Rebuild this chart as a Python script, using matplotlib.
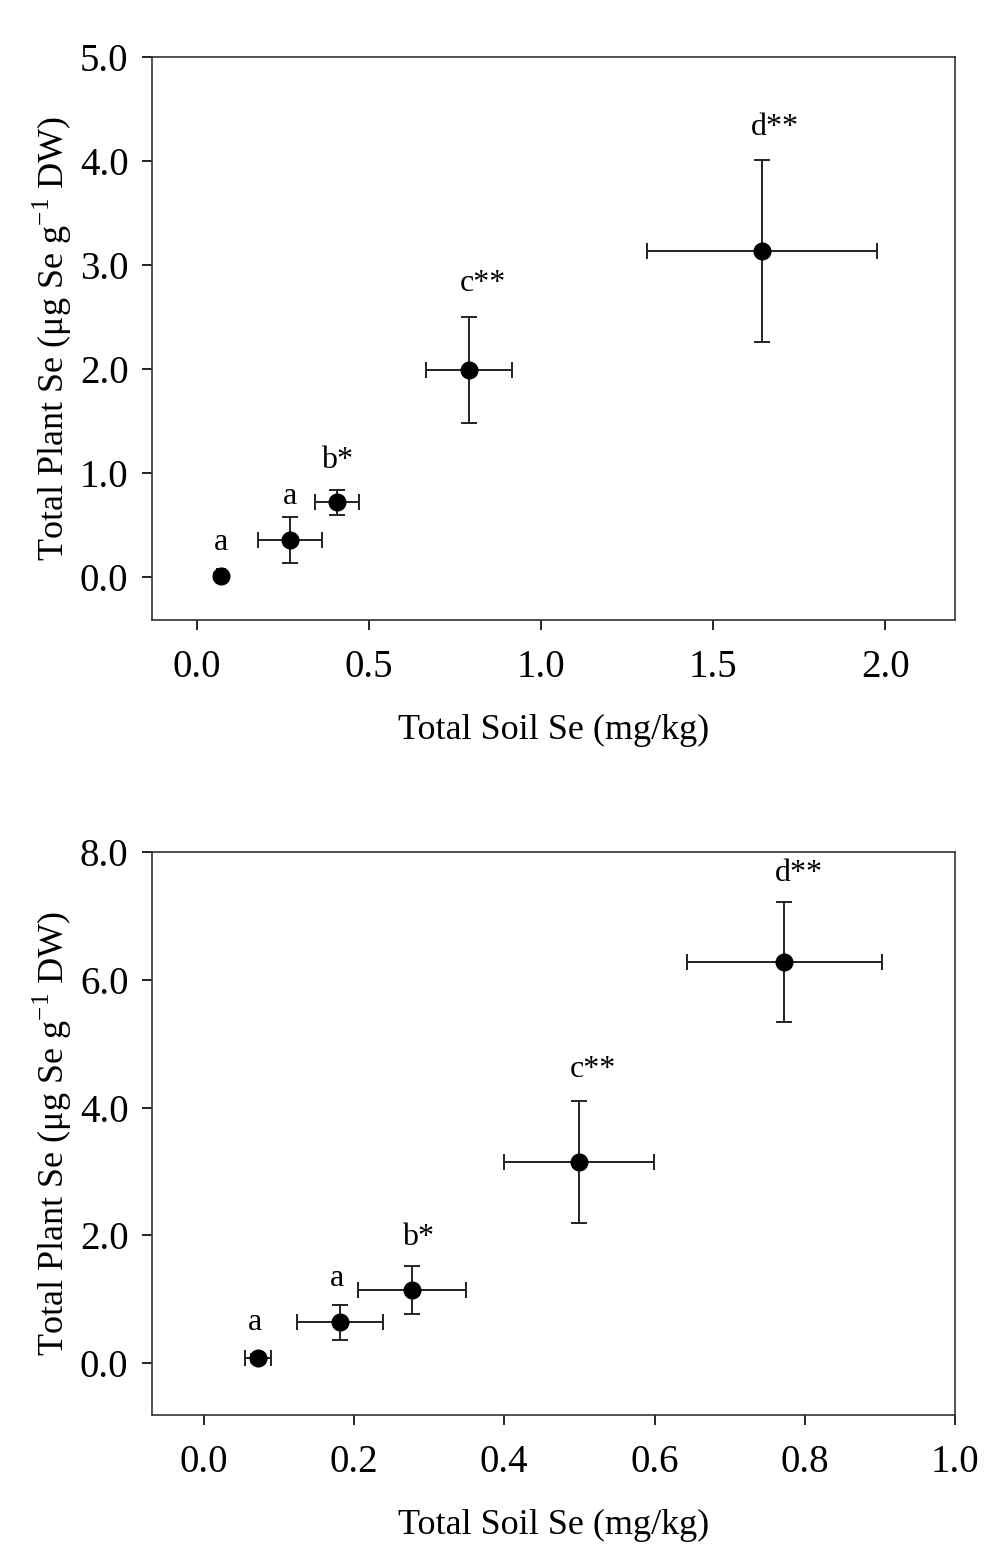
import matplotlib
matplotlib.use("Agg")
import matplotlib.pyplot as plt

plt.rcParams['font.family'] = ['Liberation Serif', 'DejaVu Serif']
plt.rcParams['mathtext.fontset'] = 'custom'
plt.rcParams['mathtext.rm'] = 'Liberation Serif'

# Top panel data
top_x = [0.07, 0.27, 0.407, 0.79, 1.642]
top_y = [0.01, 0.36, 0.72, 1.99, 3.14]
top_xerr = [0.012, 0.092, 0.065, 0.124, 0.333]
top_yerr = [0.03, 0.22, 0.12, 0.51, 0.875]
top_labels = ["a", "a", "b*", "c**", "d**"]
top_label_x = [0.07, 0.27, 0.407, 0.83, 1.68]
top_label_y = [0.33, 0.78, 1.12, 2.82, 4.32]
top_xticks = [0.0, 0.5, 1.0, 1.5, 2.0]
top_yticks = [0.0, 1.0, 2.0, 3.0, 4.0, 5.0]

# Bottom panel data
bot_x = [0.072, 0.181, 0.277, 0.499, 0.773]
bot_y = [0.08, 0.64, 1.14, 3.15, 6.28]
bot_xerr = [0.017, 0.057, 0.072, 0.100, 0.130]
bot_yerr = [0.06, 0.27, 0.375, 0.96, 0.94]
bot_labels = ["a", "a", "b*", "c**", "d**"]
bot_label_x = [0.068, 0.177, 0.285, 0.518, 0.792]
bot_label_y = [0.64, 1.33, 1.96, 4.59, 7.67]
bot_xticks = [0.0, 0.2, 0.4, 0.6, 0.8, 1.0]
bot_yticks = [0.0, 2.0, 4.0, 6.0, 8.0]

fig = plt.figure(figsize=(10, 15.5), dpi=100)
ax1 = fig.add_axes([0.152, 1 - 620/1550, 0.803, 563/1550])
ax2 = fig.add_axes([0.152, 1 - 1415/1550, 0.803, 563/1550])

ylabel = r"Total Plant Se ($\mathrm{\mu}$g Se g$^{\mathrm{-1}}$ DW)"

def draw(ax, x, y, xerr, yerr, labels, lx, ly, xticks, yticks, xlim, ylim):
    ax.errorbar(x, y, xerr=xerr, yerr=yerr, fmt='o', color='black',
                ecolor='#222222', elinewidth=1.4, capsize=6, capthick=1.4,
                markersize=12)
    for t, a, b in zip(labels, lx, ly):
        ax.text(a, b, t, ha='center', va='center', fontsize=23)
    ax.set_xlim(*xlim)
    ax.set_ylim(*ylim)
    ax.set_xticks(xticks)
    ax.set_xticklabels([f"{v:.1f}" for v in xticks])
    ax.set_yticks(yticks)
    ax.set_yticklabels([f"{v:.1f}" for v in yticks])
    ax.tick_params(axis='x', direction='out', length=7, width=1.2, labelsize=28, pad=14)
    ax.tick_params(axis='y', direction='out', length=7, width=1.2, labelsize=28, pad=10)
    for s in ax.spines.values():
        s.set_linewidth(1.2)
        s.set_color('#333333')
    ax.set_xlabel("Total Soil Se (mg/kg)", fontsize=26, labelpad=20)
    ax.set_ylabel(ylabel, fontsize=26, labelpad=4)

draw(ax1, top_x, top_y, top_xerr, top_yerr, top_labels, top_label_x, top_label_y,
     top_xticks, top_yticks, (-0.131, 2.203), (-0.41, 5.0))
draw(ax2, bot_x, bot_y, bot_xerr, bot_yerr, bot_labels, bot_label_x, bot_label_y,
     bot_xticks, bot_yticks, (-0.069, 1.0), (-0.81, 8.0))

fig.savefig("out.png", dpi=100)
